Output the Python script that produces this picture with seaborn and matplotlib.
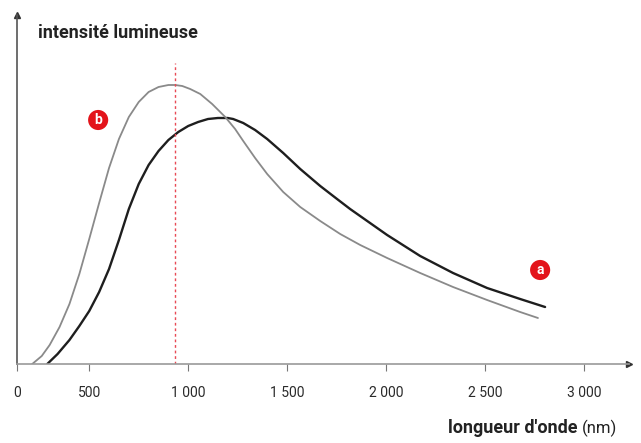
import pandas as pd
import seaborn as sns
import matplotlib.pyplot as plt

# wavelengths (nm) and relative intensity
wl_b = [212, 260, 300, 350, 400, 450, 500, 550, 600, 650, 700, 750, 800, 850, 900,
        934, 970, 1010, 1061, 1121, 1187, 1237, 1278, 1338, 1399, 1480, 1566, 1667, 1768,
        1869, 2005, 2172, 2338, 2510, 2677, 2767]
int_b = [0.00, 0.08, 0.19, 0.37, 0.60, 0.90, 1.25, 1.61, 1.96, 2.25, 2.47, 2.62, 2.72,
         2.77, 2.79, 2.79, 2.78, 2.75, 2.70, 2.60, 2.47, 2.35, 2.23, 2.06, 1.90, 1.72, 1.57,
         1.43, 1.30, 1.19, 1.06, 0.91, 0.77, 0.64, 0.52, 0.46]

wl_a = [288, 340, 400, 450, 500, 550, 600, 650, 700, 750, 800, 850, 900, 950, 1000,
        1050, 1100, 1150, 1200, 1227, 1278, 1338, 1399, 1480, 1566, 1667, 1752, 1818,
        2005, 2172, 2338, 2510, 2677, 2803]
int_a = [0.00, 0.10, 0.24, 0.38, 0.53, 0.72, 0.95, 1.24, 1.55, 1.80, 1.99, 2.13, 2.24,
         2.32, 2.38, 2.42, 2.45, 2.46, 2.46, 2.45, 2.41, 2.34, 2.25, 2.11, 1.95, 1.78,
         1.65, 1.55, 1.29, 1.08, 0.91, 0.76, 0.65, 0.57]

peak_b = 934  # dashed line
tick_vals = [500, 1000, 1500, 2000, 2500, 3000]
tick_labels = ['500', '1 000', '1 500', '2 000', '2 500', '3 000']

df = pd.concat([
    pd.DataFrame({'wl': wl_a, 'I': int_a, 'courbe': 'a'}),
    pd.DataFrame({'wl': wl_b, 'I': int_b, 'courbe': 'b'}),
])

sns.set_theme(style='white')
plt.rcParams['font.family'] = ['Roboto', 'DejaVu Sans']

fig = plt.figure(figsize=(6.41, 4.43), dpi=100)
ax = fig.add_axes([17 / 641, 79 / 443, 612 / 641, 349 / 443])

sns.lineplot(data=df, x='wl', y='I', hue='courbe', size='courbe',
             palette={'a': '#1e1e1e', 'b': '#8a8a8a'}, sizes={'a': 1.7, 'b': 1.3},
             sort=False, legend=False, ax=ax, solid_joinstyle='round')

ax.plot([peak_b, peak_b], [0, 3.01], color='#e84a55', lw=1.0, ls=(0, (2, 2)))

x0 = 135
ax.set_xlim(x0, 3227)
ax.set_ylim(0, 3.49)
ax.set_xticks([x0] + tick_vals)
ax.set_xticklabels(['0'] + tick_labels, fontsize=10, color='#2a2a2a')
ax.set_yticks([])
ax.set_xlabel('')
ax.set_ylabel('')
ax.tick_params(axis='x', bottom=True, direction='out', length=5, width=0.8,
               color='#777777', pad=11)

for s in ['top', 'right']:
    ax.spines[s].set_visible(False)
ax.spines['left'].set_color('#555555')
ax.spines['left'].set_linewidth(1.2)
ax.spines['bottom'].set_color('#999999')
ax.spines['bottom'].set_linewidth(1.2)
ax.plot(1, 0, '>', color='#333333', ms=4, transform=ax.transAxes, clip_on=False)
ax.plot(0, 1, '^', color='#333333', ms=4, transform=ax.transAxes, clip_on=False)

# red badges
for letter, xb, yb in [('b', 545, 2.44), ('a', 2778, 0.94)]:
    ax.text(xb, yb, letter, color='white', fontsize=10, fontweight='bold',
            ha='center', va='center',
            bbox=dict(boxstyle='circle,pad=0.22', fc='#e3141b', ec='none'))

fig.text(38 / 641, 1 - 33 / 443, 'intensité lumineuse', fontsize=13,
         fontweight='bold', color='#222222', va='center', ha='left')
fig.text(578 / 641, 1 - 428 / 443, "longueur d'onde", fontsize=13,
         fontweight='bold', color='#222222', va='center', ha='right')
fig.text(582 / 641, 1 - 428 / 443, '(nm)', fontsize=12,
         color='#222222', va='center', ha='left')

fig.savefig('out.png', dpi=100)
